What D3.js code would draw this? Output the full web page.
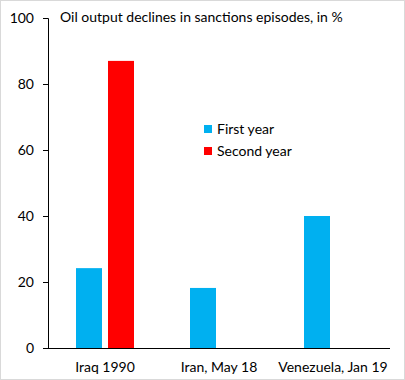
<!DOCTYPE html>
<html>
<head>
<meta charset="utf-8">
<script src="https://cdn.jsdelivr.net/npm/d3@7"></script>
<style>
body { margin: 0; background: #fff; }
svg { display: block; }
</style>
</head>
<body>
<svg width="405" height="380"></svg>
<script>
var svg = d3.select('svg');

var categories = ["Iraq 1990", "Iran, May 18", "Venezuela, Jan 19"];
var firstYear = [24.2, 18.2, 40.0];
var secondYear = [87.0, null, null];
var seriesNames = ["First year", "Second year"];
var yTicks = [0, 20, 40, 60, 80, 100];

var colors = ["#00B0F0", "#FF0000"];
var font = "Lato, 'Open Sans', sans-serif";
var fontSize = 14;

// outer border
svg.append('rect')
	.attr('x', 0.5).attr('y', 0.5)
	.attr('width', 404).attr('height', 379)
	.attr('fill', 'white')
	.attr('stroke', '#d9d9d9');

var x = d3.scaleBand().domain(categories).range([48, 390]);
var y = d3.scaleLinear().domain([0, 100]).range([348, 18]);

// bars: blue left of centre, red right of centre
var barW = 26;
var series = [firstYear, secondYear];
series.forEach(function(vals, s) {
	svg.append('g').selectAll('rect')
		.data(categories.map(function(c, i) { return {c: c, v: vals[i]}; }).filter(function(d) { return d.v != null; }))
		.enter().append('rect')
		.attr('x', function(d) { return x(d.c) + x.bandwidth() / 2 - 29 + s * 32; })
		.attr('y', function(d) { return y(d.v); })
		.attr('width', barW)
		.attr('height', function(d) { return y(0) - y(d.v); })
		.attr('fill', colors[s]);
});

// y axis
var yAxis = svg.append('g')
	.attr('transform', 'translate(48,0)')
	.call(d3.axisLeft(y).tickValues(yTicks).tickSize(5).tickPadding(9));
yAxis.selectAll('text').attr('font-family', font).attr('font-size', fontSize).attr('fill', '#000');
yAxis.selectAll('line, path').attr('stroke', '#000');
yAxis.select('.domain').attr('d', 'M-5,18.5H0.5V348.5');

// x axis
var xAxis = svg.append('g')
	.attr('transform', 'translate(0,348)')
	.call(d3.axisBottom(x).tickSize(0).tickPadding(14));
xAxis.selectAll('text').attr('font-family', font).attr('font-size', fontSize).attr('fill', '#000');
xAxis.select('.domain').attr('stroke', '#000').attr('d', 'M48,0.5H390');

// title
svg.append('text')
	.attr('x', 60).attr('y', 22)
	.attr('font-family', font).attr('font-size', fontSize)
	.text('Oil output declines in sanctions episodes, in %');

// legend
var legend = svg.append('g').selectAll('g')
	.data(seriesNames)
	.enter().append('g')
	.attr('transform', function(d, i) { return 'translate(204,' + (125 + i * 22) + ')'; });
legend.append('rect').attr('width', 8).attr('height', 8)
	.attr('fill', function(d, i) { return colors[i]; });
legend.append('text')
	.attr('x', 13).attr('y', 9)
	.attr('font-family', font).attr('font-size', fontSize)
	.text(function(d) { return d; });
</script>
</body>
</html>
